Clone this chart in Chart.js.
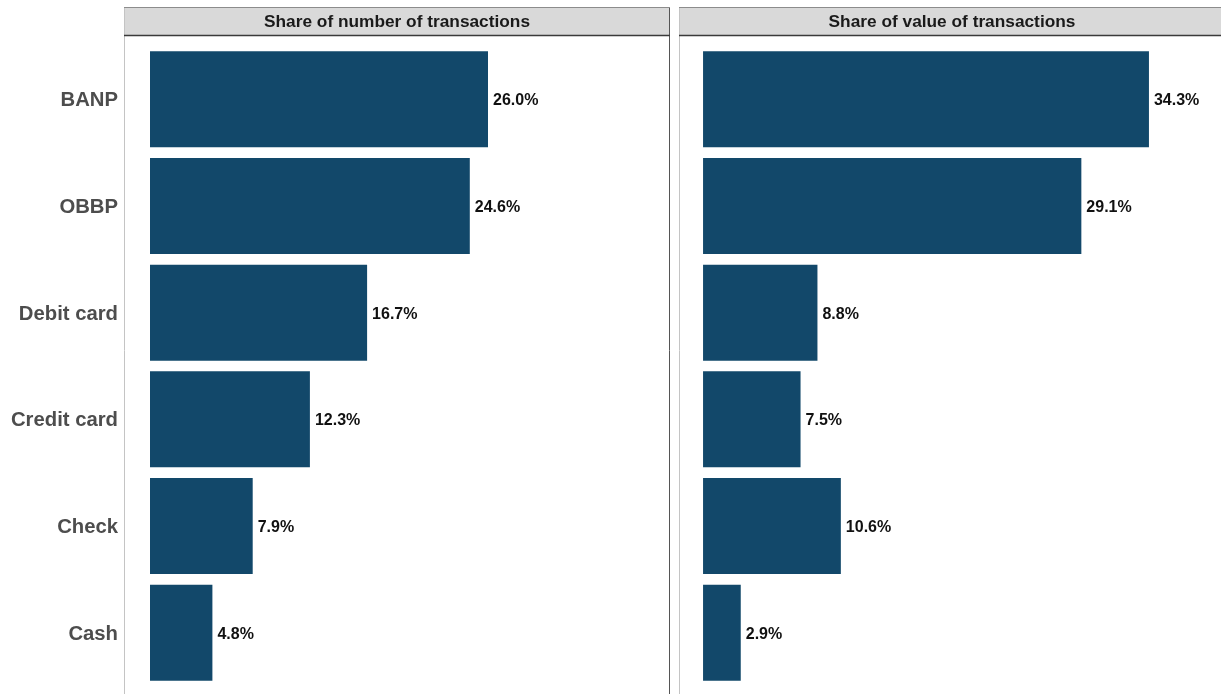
<!DOCTYPE html>
<html>
<head>
<meta charset="utf-8">
<script src="https://cdn.jsdelivr.net/npm/chart.js@4.4.1/dist/chart.umd.min.js"></script>
<style>
  html, body { margin: 0; padding: 0; background: #fff; overflow: hidden; }
  #wrap { position: relative; width: 1221px; height: 694px; overflow: hidden; }
  canvas { position: absolute; top: 0; }
  #numChart { left: 0; }
  #valChart { left: 672px; }
</style>
</head>
<body>
<div id="wrap">
  <canvas id="numChart"></canvas>
  <canvas id="valChart"></canvas>
</div>
<script>
// Payment methods and their shares (%)
const metodos = ['BANP', 'OBBP', 'Debit card', 'Credit card', 'Check', 'Cash'];
const shareNumero = [26.0, 24.6, 16.7, 12.3, 7.9, 4.8];
const shareValor = [34.3, 29.1, 8.8, 7.5, 10.6, 2.9];
const titulos = ['Share of number of transactions', 'Share of value of transactions'];

const FONTE = '"Liberation Sans", Arial, Helvetica, sans-serif';
const COR_BARRA = '#12486a';

// Strip header, panel borders and (optionally) category labels
const painelPlugin = {
  id: 'painel',
  beforeDraw(chart, args, opts) {
    const c = chart.ctx;
    const a = chart.chartArea;
    const left = a.left, right = a.right;
    c.save();
    // left/right borders
    c.lineWidth = 1;
    c.strokeStyle = '#c4c4c4';
    c.beginPath(); c.moveTo(left + 0.5, 7); c.lineTo(left + 0.5, chart.height); c.stroke();
    c.strokeStyle = '#555555';
    c.beginPath(); c.moveTo(right - 0.5, 7); c.lineTo(right - 0.5, chart.height); c.stroke();
    // strip
    c.fillStyle = '#d9d9d9';
    c.fillRect(left + 1, 7, right - left - 2, 29);
    c.strokeStyle = '#8c8c8c';
    c.beginPath(); c.moveTo(left, 7.5); c.lineTo(right, 7.5); c.stroke();
    c.strokeStyle = '#3a3a3a';
    c.lineWidth = 1.5;
    c.beginPath(); c.moveTo(left, 35.5); c.lineTo(right, 35.5); c.stroke();
    c.fillStyle = '#1a1a1a';
    c.font = 'bold 17.3px ' + FONTE;
    c.textAlign = 'center';
    c.textBaseline = 'middle';
    c.fillText(opts.titulo, (left + right) / 2, 22);
    // category labels on the left of the first panel
    if (opts.rotulosEixo) {
      const y = chart.scales.y;
      c.fillStyle = '#4d4d4d';
      c.font = 'bold 20.3px ' + FONTE;
      c.textAlign = 'right';
      chart.data.labels.forEach((lab, i) => {
        c.fillText(lab, left - 6, y.getPixelForTick(i) + 1.5);
      });
    }
    c.restore();
  }
};

// Value labels at the end of each bar
const rotuloPlugin = {
  id: 'rotulo',
  afterDatasetsDraw(chart) {
    const c = chart.ctx;
    const meta = chart.getDatasetMeta(0);
    const dados = chart.data.datasets[0].data;
    c.save();
    c.fillStyle = '#111111';
    c.font = 'bold 16px ' + FONTE;
    c.textAlign = 'left';
    c.textBaseline = 'middle';
    meta.data.forEach((bar, i) => {
      c.fillText(dados[i].toFixed(1) + '%', bar.x + 5, bar.y + 1.5);
    });
    c.restore();
  }
};

function criarGrafico(id, largura, valores, titulo, padLeft, xMin) {
  const canvas = document.getElementById(id);
  canvas.width = largura;
  canvas.height = 694;
  canvas.style.width = largura + 'px';
  canvas.style.height = '694px';
  return new Chart(canvas.getContext('2d'), {
    type: 'bar',
    data: {
      labels: metodos,
      datasets: [{
        data: valores,
        backgroundColor: COR_BARRA,
        borderWidth: 0,
        barPercentage: 0.9,
        categoryPercentage: 1.0
      }]
    },
    options: {
      indexAxis: 'y',
      responsive: false,
      animation: false,
      layout: {
        padding: { top: 46, bottom: 8, left: padLeft, right: largura - padLeft - 546 }
      },
      plugins: {
        legend: { display: false },
        tooltip: { enabled: false },
        painel: { titulo: titulo, rotulosEixo: padLeft > 100 }
      },
      scales: {
        x: { display: false, min: xMin, max: xMin + 42 },
        y: { display: false, offset: true }
      }
    },
    plugins: [painelPlugin, rotuloPlugin]
  });
}

criarGrafico('numChart', 672, shareNumero, titulos[0], 124, -2);
criarGrafico('valChart', 557, shareValor, titulos[1], 7, -1.85);
</script>
</body>
</html>
